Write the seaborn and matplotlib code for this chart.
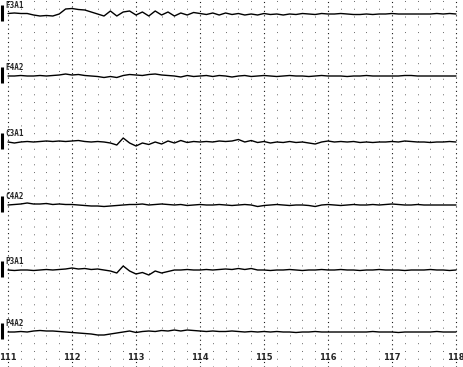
import numpy as np
import pandas as pd
import matplotlib.pyplot as plt
import seaborn as sns

# --- data: 6 EEG channels, sampled every 0.1 s from 111 s to 118 s ---
channels = ["F3A1", "F4A2", "C3A1", "C4A2", "P3A1", "P4A2"]
baselines = [14, 76, 142, 205, 270, 332]   # vertical position of each trace
tick_secs = [111, 112, 113, 114, 115, 116, 117, 118]
tick_labels = ["111", "112", "113", "114", "115", "116", "117", "118"]

f3a1 = [0.5, 1, 0.5, 0.5, -1, -2, -1.5, -2, 0, 5, 5.5, 4.5, 4, 2, 0, -2, 3, -2, 2, 3,
        -1, 2, -2, 3, -1, 2, -2, 1, -1, 1.5, 0.5, -0.5, 1, -1, 1, -0.5, 0.5, -1, 0, -1,
        0.5, -0.5, 0, -1, 0, -0.5, 0.5, 0, -0.5, 0.5, 0, 0, 0.5, 0, -0.5, -0.5, 0, -0.5, 0, 0,
        0.5, 0, 0, 0, 0, 0, 0, 0.5, 0, 0.5, 0]
f4a2 = [0, 0, 0.5, 0, 0, 0.5, 0, 0.5, 1, 2, 1, 1.5, 0.5, 0, -0.5, -1.5, -0.5, -1.5, 0.5, 1.5,
        1, 0.5, 1.5, 2, 1, 0.5, 0, -1, 0.5, -0.5, 0, 0.5, -0.5, 0.5, 0, -1, 0, 0.5, -0.5, 0,
        0.5, 0, -0.5, 0, 0.5, 0, 0, -0.5, 0, 0.5, 0, 0, 0, -0.5, 0, 0, 0.5, 0, 0, 0,
        0, 0, 0.5, 0.5, 0, 0, 0, 0, 0, 0, 0]
c3a1 = [0, -1, 0, 0.5, 0, 0.5, 1, 0.5, 1, 0.5, 1, 1.5, 0.5, 0, 0.5, 0, -1, -3, 4, -1,
        -4, -1, -2.5, 0, -2, 1, -1, 1.5, -0.5, 0.5, 0, 0.5, 0, 1, 0.5, 1, 2.5, 0, 1.5, -0.5,
        0.5, -1, 0, -0.5, 0.5, -0.5, 0, -1, -2, 0, 1, 0, 0.5, 0, 0.5, -0.5, 0, -0.5, 0, 0,
        0.5, 0, 1, 0.5, 0, 0, -0.5, 0, 0, 0.5, 0]
c4a2 = [0, 0.5, 1, 2, 1, 1, 1.5, 0.5, 1, 0.5, 0.5, 0, -0.5, -1, -1, -1.5, -1, -0.5, 0, 0.5,
        0.5, 1, 0, 0.5, 1, 0.5, 0, 0.5, -0.5, 0, 0.5, 0, 0, 0.5, 0, -0.5, 0, 0.5, 0, -1.5,
        -0.5, 0, 0.5, 0, -0.5, 0, 0, -0.5, -1.5, 0, 0.5, 0, -0.5, 0, 0.5, 0, 0, 0.5, 0, 0.5,
        1, 0.5, 0, 0, 0.5, 0, 0, 0, 0, 0, 0]
p3a1 = [0, -0.5, 0, 0, -0.5, 0, 0.5, 0, 0.5, 1, 2, 1, 1.5, 0.5, 1, 0, -1, -3, 4, -1,
        -4, -2.5, -5, -1, -3, -1.5, 0, 0, 0.5, 0, 0, 0.5, 0, 0.5, 1, 0.5, 1.5, 0.5, 1.5, 0,
        0, -0.5, 0, 0, 0.5, 0, -0.5, 0, 0, 0.5, 0, 0, 0.5, 0, 0, -0.5, 0, 0, 0.5, 0,
        0, 0, -0.5, 0, 0, 0, 0.5, 0, 0, -0.5, 0]
p4a2 = [0, 0, 0.5, 0, 1, 1.5, 1, 1, 0.5, 0, -0.5, -1, -1.5, -2, -3, -3, -2, -1, 0, 1,
        -0.5, 0.5, 1, 0.5, 1.5, 1, 2, 1, 2, 1.5, 1, 0.5, 1, 0.5, 0.5, 1, 0.5, 0, 0.5, 0,
        0.5, 0, 0.5, 0, 0, -0.5, 0, 0, 0.5, 0, 0, 0, 0, 0, 0, 0, 0, 0.5, 0, 0,
        0, -0.5, 0, 0, 0, 0, 0, 0.5, 0, 0, 0]

traces = [f3a1, f4a2, c3a1, c4a2, p3a1, p4a2]
times = np.round(np.linspace(111, 118, len(f3a1)), 2)

rows = []
for name, base, vals in zip(channels, baselines, traces):
    for t, v in zip(times, vals):
        rows.append({"time": t, "channel": name, "y": base - v})
df = pd.DataFrame(rows)

sns.set_style("white")
fig = plt.figure(figsize=(4.64, 3.67), dpi=100)
ax = fig.add_axes([0, 0, 1, 1])

# dotted time grid: denser dots at whole seconds, sparse at 0.2 s
for s in np.arange(111, 118.01, 0.2):
    whole = abs(s - round(s)) < 1e-6
    ax.axvline(s, color="black", lw=0.8 if whole else 0.7,
               ls=(0, (1, 3)) if whole else (0, (1, 7)), alpha=0.9 if whole else 0.6)

sns.lineplot(data=df, x="time", y="y", units="channel", estimator=None,
             color="black", lw=1.0, ax=ax, sort=True)

# calibration bar and channel label
for name, base in zip(channels, baselines):
    ax.plot([110.91, 110.91], [base - 9, base + 7], color="black", lw=2.2,
            solid_capstyle="butt")
    ax.text(110.96, base - 4, name, fontsize=5.5, fontweight="bold",
            family="DejaVu Sans Mono", va="bottom", ha="left")

for s, lab in zip(tick_secs, tick_labels):
    ax.text(s, 357, lab, fontsize=6, fontweight="bold", ha="center", va="center")

ax.set_xlim(110.875, 118.125)
ax.set_ylim(367, 0)
ax.set_axis_off()

fig.savefig("out.png", dpi=100)
